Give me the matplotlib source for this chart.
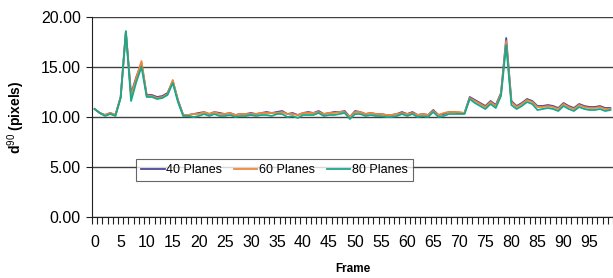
import matplotlib
matplotlib.use('Agg')
import matplotlib.pyplot as plt
from matplotlib.ticker import MultipleLocator, FixedLocator

plt.rcParams['font.family'] = ['Liberation Sans', 'DejaVu Sans']
plt.rcParams['mathtext.fontset'] = 'custom'
plt.rcParams['mathtext.rm'] = 'Liberation Sans'
plt.rcParams['mathtext.bf'] = 'Liberation Sans:bold'

# d90 per frame
frames = list(range(100))
planes_40 = [10.8, 10.4, 10.2, 10.4, 10.2, 12.0, 18.5, 12.3, 14.0, 15.4,
             12.2, 12.2, 12.0, 12.1, 12.4, 13.6, 11.7, 10.2, 10.2, 10.3,
             10.4, 10.5, 10.3, 10.5, 10.4, 10.3, 10.4, 10.2, 10.3, 10.3,
             10.4, 10.3, 10.4, 10.5, 10.4, 10.5, 10.6, 10.3, 10.4, 10.2,
             10.4, 10.5, 10.4, 10.6, 10.3, 10.4, 10.5, 10.5, 10.6, 10.0,
             10.6, 10.5, 10.3, 10.4, 10.3, 10.3, 10.2, 10.2, 10.3, 10.5,
             10.3, 10.5, 10.2, 10.3, 10.2, 10.7, 10.2, 10.3, 10.5, 10.5,
             10.4, 10.4, 12.0, 11.7, 11.4, 11.1, 11.6, 11.2, 12.4, 17.9,
             11.6, 11.1, 11.4, 11.8, 11.6, 11.1, 11.1, 11.2, 11.1, 10.9,
             11.4, 11.1, 10.9, 11.3, 11.1, 11.0, 11.0, 11.1, 10.9, 10.9]
planes_60 = [10.8, 10.4, 10.2, 10.4, 10.2, 12.0, 18.5, 12.1, 13.9, 15.6,
             12.1, 12.1, 11.9, 12.0, 12.3, 13.7, 11.6, 10.2, 10.2, 10.3,
             10.3, 10.5, 10.3, 10.5, 10.3, 10.3, 10.4, 10.2, 10.3, 10.3,
             10.3, 10.3, 10.4, 10.4, 10.4, 10.4, 10.5, 10.3, 10.3, 10.2,
             10.4, 10.4, 10.4, 10.5, 10.3, 10.4, 10.4, 10.5, 10.5, 10.0,
             10.5, 10.5, 10.3, 10.4, 10.3, 10.3, 10.2, 10.2, 10.3, 10.4,
             10.3, 10.4, 10.2, 10.3, 10.2, 10.6, 10.2, 10.4, 10.5, 10.5,
             10.5, 10.4, 11.9, 11.6, 11.3, 11.0, 11.5, 11.1, 12.3, 17.6,
             11.5, 11.0, 11.3, 11.7, 11.5, 11.0, 11.0, 11.1, 11.0, 10.8,
             11.3, 11.0, 10.8, 11.2, 11.0, 10.9, 10.9, 11.0, 10.8, 10.8]
planes_80 = [10.8, 10.4, 10.1, 10.3, 10.1, 11.9, 18.6, 11.6, 13.5, 15.0,
             12.0, 12.0, 11.8, 11.9, 12.2, 13.4, 11.5, 10.1, 10.1, 10.0,
             10.1, 10.3, 10.1, 10.3, 10.1, 10.1, 10.2, 10.0, 10.1, 10.1,
             10.2, 10.1, 10.2, 10.2, 10.1, 10.3, 10.3, 10.0, 10.1, 9.9,
             10.2, 10.2, 10.2, 10.4, 10.1, 10.2, 10.2, 10.3, 10.4, 9.8,
             10.3, 10.3, 10.1, 10.2, 10.1, 10.1, 10.0, 10.0, 10.1, 10.3,
             10.1, 10.3, 10.0, 10.1, 10.0, 10.5, 10.0, 10.1, 10.3, 10.3,
             10.3, 10.3, 11.8, 11.4, 11.1, 10.8, 11.3, 10.9, 12.1, 17.2,
             11.2, 10.8, 11.1, 11.5, 11.3, 10.7, 10.8, 10.9, 10.8, 10.6,
             11.1, 10.8, 10.6, 11.0, 10.8, 10.7, 10.7, 10.8, 10.6, 10.7]
series = [('40 Planes', planes_40, '#4a4a9c'),
          ('60 Planes', planes_60, '#f0883a'),
          ('80 Planes', planes_80, '#17a98c')]

fig = plt.figure(figsize=(6.13, 2.78), dpi=100)
ax = fig.add_axes([92 / 613, 1 - 217 / 278, 521 / 613, 200 / 278])

for name, vals, col in series:
    ax.plot(frames, vals, color=col, lw=1.3, label=name, zorder=3)

ax.set_xlim(-0.5, 99.5)
ax.set_ylim(0, 20)
ax.yaxis.set_major_locator(MultipleLocator(5))
ax.yaxis.set_major_formatter(lambda v, p: f'{v:.2f}')
ax.grid(axis='y', color='#404040', lw=1.0, zorder=1)

ax.set_xticks(range(0, 100, 5))
ax.xaxis.set_minor_locator(FixedLocator([i - 0.5 for i in range(101)]))
ax.tick_params(axis='x', which='major', length=0, pad=13, labelsize=11.5)
ax.tick_params(axis='x', which='minor', length=5, width=0.8, color='#202020')
ax.tick_params(axis='y', length=4, width=0.8, labelsize=11.5, color='#202020', pad=4)

for s in ['top', 'right']:
    ax.spines[s].set_visible(False)
ax.spines['left'].set_color('#202020')
ax.spines['bottom'].set_color('#202020')

ax.set_xlabel('Frame', fontsize=8.5, fontweight='bold', labelpad=9)
ax.set_ylabel(r'$\mathbf{d}^{90}$ (pixels)', fontsize=10, fontweight='bold', labelpad=10)

leg = ax.legend(loc='center left', bbox_to_anchor=(0.084, 0.235), ncol=3,
                fontsize=9, frameon=True, fancybox=False, handlelength=1.9,
                handletextpad=0.15, columnspacing=0.9, borderpad=0.4,
                borderaxespad=0)
leg.get_frame().set_edgecolor('#404040')
leg.get_frame().set_linewidth(0.8)
leg.set_zorder(5)

fig.savefig('out.png', dpi=100)
